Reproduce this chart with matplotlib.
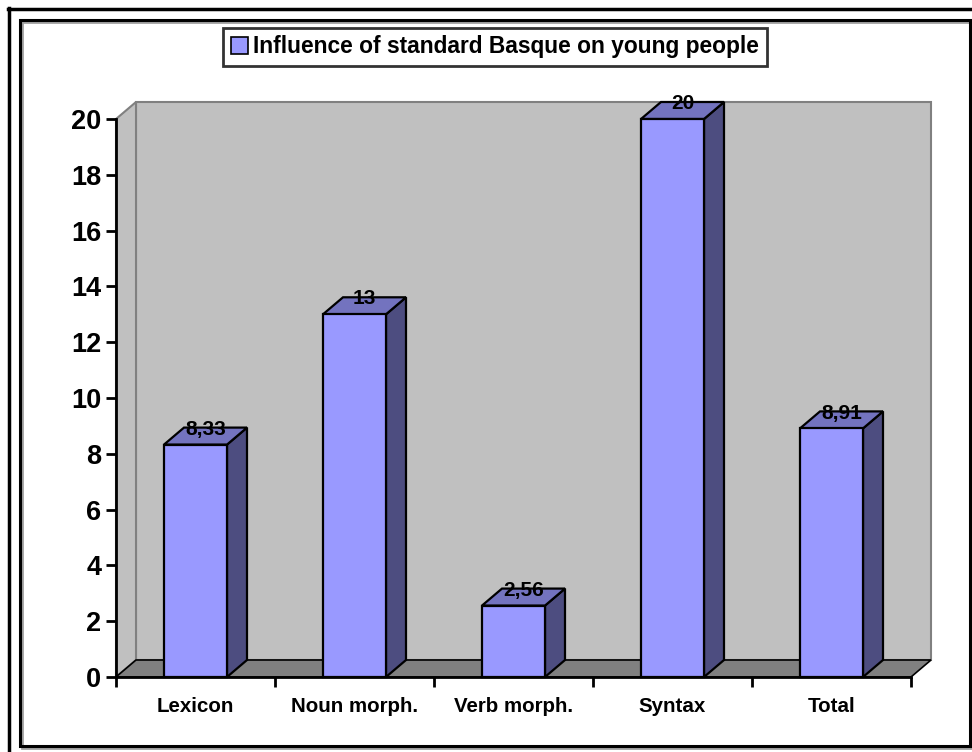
import matplotlib
matplotlib.use("Agg")
import matplotlib.pyplot as plt
from matplotlib.patches import Polygon, Rectangle, Patch
from matplotlib.lines import Line2D

plt.rcParams['font.family'] = ['Liberation Sans', 'DejaVu Sans']
plt.rcParams['font.weight'] = 'bold'

categories = ["Lexicon", "Noun morph.", "Verb morph.", "Syntax", "Total"]
values = [8.33, 13, 2.56, 20, 8.91]
value_labels = ["8,33", "13", "2,56", "20", "8,91"]
y_ticks = [0, 2, 4, 6, 8, 10, 12, 14, 16, 18, 20]
series_name = "Influence of standard Basque on young people"

W, H = 972, 752
FRONT = "#9999FF"
TOP = "#7373BF"
SIDE = "#4D4D80"
WALL = "#C0C0C0"
FLOOR = "#808080"


def fx(px):
    return px / W


def fy(py):
    return 1 - py / H


fig = plt.figure(figsize=(W / 100, H / 100), dpi=100)
ax = fig.add_axes([fx(116), fy(677), fx(911) - fx(116), fy(119) - fy(677)])
n = len(categories)
ax.set_xlim(-0.5, n - 0.5)
ax.set_ylim(0, 20)

# depth of the 3d effect, in data units
ax_w_px = 911 - 116
ax_h_px = 677 - 119
dx = 20 / (ax_w_px / n)
dy = 17 / (ax_h_px / 20)
bw = 63 / (ax_w_px / n)

x0, x1 = -0.5, n - 0.5
ymax = 20
# back wall
ax.add_patch(Polygon([(x0 + dx, dy), (x1 + dx, dy), (x1 + dx, ymax + dy), (x0 + dx, ymax + dy)],
                     closed=True, facecolor=WALL, edgecolor=FLOOR, lw=1.5, clip_on=False, zorder=1))
# side wall
ax.add_patch(Polygon([(x0, 0), (x0 + dx, dy), (x0 + dx, ymax + dy), (x0, ymax)],
                     closed=True, facecolor=WALL, edgecolor=FLOOR, lw=1.5, clip_on=False, zorder=1))
# floor
ax.add_patch(Polygon([(x0, 0), (x1, 0), (x1 + dx, dy), (x0 + dx, dy)],
                     closed=True, facecolor=FLOOR, edgecolor="black", lw=1.2, clip_on=False, zorder=2))

for i, v in enumerate(values):
    l = i - bw / 2
    r = i + bw / 2
    kw = dict(edgecolor="black", lw=1.6, clip_on=False, zorder=3, joinstyle="miter")
    ax.add_patch(Polygon([(r, 0), (r + dx, dy), (r + dx, v + dy), (r, v)], closed=True, facecolor=SIDE, **kw))
    ax.add_patch(Polygon([(l, v), (r, v), (r + dx, v + dy), (l + dx, v + dy)], closed=True, facecolor=TOP, **kw))
    ax.add_patch(Rectangle((l, 0), bw, v, facecolor=FRONT, **kw))
    ax.text(i + dx / 2, v + dy - 0.06, value_labels[i], ha="center", va="center",
            fontsize=15, fontweight="bold", zorder=5)

ax.set_facecolor("none")
for s in ["top", "right"]:
    ax.spines[s].set_visible(False)
for s in ["left", "bottom"]:
    ax.spines[s].set_linewidth(2)
    ax.spines[s].set_zorder(4)

ax.set_yticks(y_ticks)
ax.set_yticklabels([str(t) for t in y_ticks], fontsize=19.5, fontweight="bold")
ax.tick_params(axis="y", length=7.5, width=2, pad=3)

ax.set_xticks(range(n))
ax.set_xticklabels(categories, fontsize=14.8, fontweight="bold")
ax.set_xticks([k - 0.5 for k in range(n + 1)], minor=True)
ax.tick_params(axis="x", which="major", length=0, pad=14.5)
ax.tick_params(axis="x", which="minor", length=7.5, width=2)

leg = fig.legend([Patch(facecolor=FRONT, edgecolor="black", lw=1.2)], [series_name],
                 loc="center", bbox_to_anchor=(fx(495), fy(47)), fancybox=False,
                 prop={"size": 16.4, "weight": "bold"}, handlelength=0.75, handleheight=0.75,
                 handletextpad=0.25, borderpad=0.35, borderaxespad=0)
leg.get_frame().set_edgecolor("black")
leg.get_frame().set_linewidth(2)

# chart frame
fig.add_artist(Rectangle((fx(22), fy(748)), fx(972) - fx(22), fy(22) - fy(748),
                         facecolor="none", edgecolor="#A0A0A0", lw=2, transform=fig.transFigure))
fig.add_artist(Rectangle((fx(20), fy(746)), fx(970) - fx(20), fy(20) - fy(746),
                         facecolor="none", edgecolor="black", lw=2.2, transform=fig.transFigure))
fig.add_artist(Line2D([fx(8), fx(972)], [fy(9), fy(9)], color="black", lw=2.5, transform=fig.transFigure))
fig.add_artist(Line2D([fx(9), fx(9)], [fy(8), fy(752)], color="black", lw=2.5, transform=fig.transFigure))

fig.savefig("out.png", dpi=100)
